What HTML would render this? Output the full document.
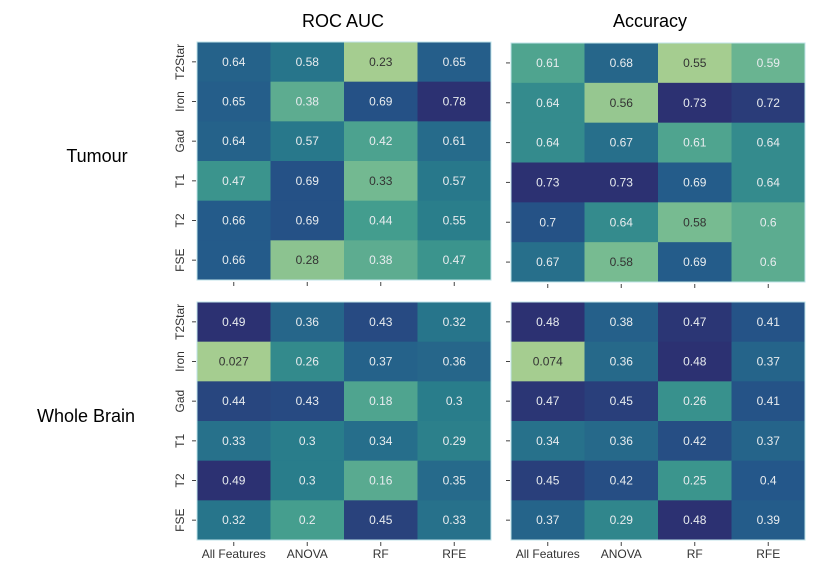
<!DOCTYPE html>
<html><head><meta charset="utf-8"><style>
body{margin:0;background:#fff;width:823px;height:576px;overflow:hidden;font-family:"Liberation Sans",sans-serif}
</style></head><body>
<svg id="fig" width="823" height="576" xmlns="http://www.w3.org/2000/svg">
<text x="343" y="27" font-size="18" text-anchor="middle" fill="#000">ROC AUC</text>
<text x="650" y="27" font-size="18" text-anchor="middle" fill="#000">Accuracy</text>
<text x="97" y="162" font-size="18" text-anchor="middle" fill="#000">Tumour</text>
<text x="86" y="422" font-size="18" text-anchor="middle" fill="#000">Whole Brain</text>
</svg>
<script>
const rows = ["T2Star","Iron","Gad","T1","T2","FSE"];
const cols = ["All Features","ANOVA","RF","RFE"];
const tumourRoc = [[0.64,0.58,0.23,0.65],[0.65,0.38,0.69,0.78],[0.64,0.57,0.42,0.61],[0.47,0.69,0.33,0.57],[0.66,0.69,0.44,0.55],[0.66,0.28,0.38,0.47]];
const tumourAcc = [[0.61,0.68,0.55,0.59],[0.64,0.56,0.73,0.72],[0.64,0.67,0.61,0.64],[0.73,0.73,0.69,0.64],[0.7,0.64,0.58,0.6],[0.67,0.58,0.69,0.6]];
const brainRoc = [[0.49,0.36,0.43,0.32],[0.027,0.26,0.37,0.36],[0.44,0.43,0.18,0.3],[0.33,0.3,0.34,0.29],[0.49,0.3,0.16,0.35],[0.32,0.2,0.45,0.33]];
const brainAcc = [[0.48,0.38,0.47,0.41],[0.074,0.36,0.48,0.37],[0.47,0.45,0.26,0.41],[0.34,0.36,0.42,0.37],[0.45,0.42,0.25,0.4],[0.37,0.29,0.48,0.39]];

const NS="http://www.w3.org/2000/svg";
const svg=document.getElementById('fig');
const stops=[[0,[165,205,144]],[0.2,[110,183,145]],[0.4,[63,154,142]],[0.6,[40,123,139]],[0.8,[36,88,138]],[1,[44,49,114]]];
function cmap(t){t=Math.max(0,Math.min(1,t));for(let i=1;i<stops.length;i++){if(t<=stops[i][0]){const a=stops[i-1],b=stops[i];const f=(t-a[0])/(b[0]-a[0]);const c=a[1].map((v,k)=>Math.round(v+(b[1][k]-v)*f));return 'rgb('+c.join(',')+')';}}return 'rgb(44,49,114)';}
function mk(tag,attrs){const e=document.createElementNS(NS,tag);for(const k in attrs)e.setAttribute(k,attrs[k]);svg.appendChild(e);return e;}
function heat(data,x0,y0,w,h,name,showY,showX){
  const cw=w/cols.length, ch=h/rows.length;
  const flat=data.flat();const mn=Math.min(...flat),mx=Math.max(...flat);
  const xs=j=>x0+j*cw, ys=i=>y0+i*ch;
  data.forEach((r,i)=>r.forEach((v,j)=>{
    const t=(v-mn)/(mx-mn);
    const rc=mk('rect',{x:xs(j),y:ys(i),width:cw+0.5,height:ch+0.5,fill:cmap(t)});
    
    
    const tx=mk('text',{x:xs(j)+cw/2,y:ys(i)+ch/2+4,'font-size':12,'text-anchor':'middle',fill:t<0.2?'#333':'#e8ecef'});
    tx.textContent=String(v);
    
    
  }));
  mk('rect',{x:x0,y:y0,width:w,height:h,fill:'none',stroke:'#bfe3e8','stroke-width':1});
  rows.forEach((r,i)=>{
    mk('line',{x1:x0-5,x2:x0-1,y1:ys(i)+ch/2,y2:ys(i)+ch/2,stroke:'#444','stroke-width':1});
    if(showY){const t=mk('text',{x:0,y:0,'font-size':12,'text-anchor':'middle',fill:'#333',transform:`translate(${x0-13},${ys(i)+ch/2}) rotate(-90)`});
      t.textContent=r;
      
      }
  });
  cols.forEach((c,j)=>{
    mk('line',{x1:xs(j)+cw/2,x2:xs(j)+cw/2,y1:y0+h+2,y2:y0+h+6,stroke:'#444','stroke-width':1});
    if(showX){const t=mk('text',{x:xs(j)+cw/2,y:y0+h+18,'font-size':12,'text-anchor':'middle',fill:'#333'});
      t.textContent=c;
      
      }
  });
}
heat(tumourRoc,197,42,294,238,'tumour-roc',true,false);
heat(tumourAcc,511,43,294,239,'tumour-acc',false,false);
heat(brainRoc,197,302,294,238,'brain-roc',true,true);
heat(brainAcc,511,302,294,238,'brain-acc',false,true);
</script>
</body></html>
